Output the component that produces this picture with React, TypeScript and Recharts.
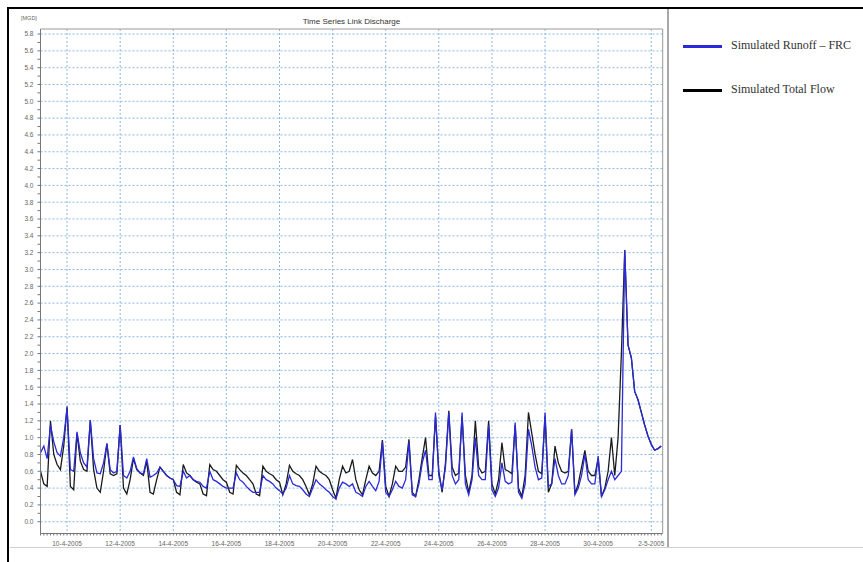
import React from 'react';
import { LineChart, Line, XAxis, YAxis, CartesianGrid, ReferenceLine } from 'recharts';

// readings every 3 hours, starting 9-4-2005 00:00 (x value = days since then)
const dateLabels = [
  '10-4-2005', '12-4-2005', '14-4-2005', '16-4-2005', '18-4-2005', '20-4-2005',
  '22-4-2005', '24-4-2005', '26-4-2005', '28-4-2005', '30-4-2005', '2-5-2005',
];
const labelDays = [1, 3, 5, 7, 9, 11, 13, 15, 17, 19, 21, 23];

// Simulated Runoff - FRC [MGD]
const runoff = [
  0.82, 0.9, 0.75, 1.15, 0.95, 0.82, 0.78, 1.0,
  1.35, 0.62, 0.6, 1.07, 0.82, 0.7, 0.65, 1.21,
  0.75, 0.58, 0.57, 0.7, 0.93, 0.62, 0.58, 0.6,
  1.15, 0.55, 0.52, 0.6, 0.77, 0.63, 0.58, 0.57,
  0.75, 0.53, 0.55, 0.58, 0.65, 0.6, 0.55, 0.52,
  0.5, 0.43, 0.42, 0.6, 0.52, 0.55, 0.5, 0.48,
  0.47, 0.42, 0.4, 0.6, 0.5, 0.48, 0.45, 0.42,
  0.4, 0.4, 0.4, 0.58, 0.5, 0.47, 0.42, 0.38,
  0.35, 0.35, 0.35, 0.55, 0.5, 0.48, 0.45, 0.4,
  0.37, 0.33, 0.4, 0.55, 0.45, 0.43, 0.42, 0.38,
  0.33, 0.3, 0.4, 0.5, 0.45, 0.42, 0.38, 0.35,
  0.3, 0.27, 0.4, 0.47, 0.45, 0.42, 0.45, 0.35,
  0.33, 0.3, 0.42, 0.48, 0.42, 0.37, 0.48, 0.95,
  0.35, 0.3, 0.38, 0.48, 0.42, 0.4, 0.5, 0.95,
  0.32, 0.3, 0.45, 0.7, 0.85, 0.5, 0.5, 1.3,
  0.55, 0.38, 0.65, 1.3, 0.55, 0.45, 0.5, 1.3,
  0.45, 0.32, 0.5, 1.0, 0.55, 0.5, 0.5, 1.15,
  0.38, 0.3, 0.4, 0.7, 0.48, 0.45, 0.47, 1.18,
  0.35, 0.28, 0.45, 1.1, 0.9, 0.65, 0.5, 0.52,
  1.3, 0.42, 0.45, 0.75, 0.55, 0.45, 0.45, 0.55,
  1.1, 0.32, 0.4, 0.55, 0.8, 0.5, 0.45, 0.45,
  0.78, 0.3, 0.38, 0.5, 0.6, 0.5, 0.55, 0.6,
  3.23, 2.1, 1.95, 1.55, 1.45, 1.3, 1.15, 1.02,
  0.92, 0.85, 0.87, 0.9,
];

// Simulated Total Flow [MGD]
const totalFlow = [
  0.6, 0.45, 0.42, 1.2, 0.8, 0.68, 0.62, 0.9,
  1.37, 0.42, 0.38, 1.05, 0.72, 0.62, 0.6, 1.2,
  0.62, 0.4, 0.35, 0.6, 0.93, 0.57, 0.55, 0.57,
  1.15, 0.4, 0.33, 0.5, 0.75, 0.62, 0.58, 0.55,
  0.72, 0.35, 0.33, 0.5, 0.65, 0.6, 0.55, 0.52,
  0.5, 0.35, 0.32, 0.68, 0.58, 0.55, 0.5, 0.47,
  0.45, 0.33, 0.31, 0.68, 0.62, 0.6, 0.55, 0.5,
  0.47, 0.35, 0.33, 0.67, 0.62, 0.58, 0.55, 0.5,
  0.45, 0.33, 0.31, 0.66, 0.6, 0.57, 0.55, 0.5,
  0.47, 0.32, 0.45, 0.67, 0.6, 0.57, 0.55, 0.5,
  0.42, 0.32, 0.45, 0.66, 0.6, 0.57, 0.55, 0.5,
  0.38, 0.28, 0.5, 0.66, 0.58, 0.6, 0.74, 0.5,
  0.38, 0.32, 0.5, 0.66, 0.58, 0.55, 0.6, 0.97,
  0.42, 0.3, 0.45, 0.66, 0.6, 0.6, 0.65, 0.98,
  0.35, 0.3, 0.5, 0.76, 1.0, 0.55, 0.55, 1.25,
  0.6, 0.35, 0.7, 1.32, 0.65, 0.55, 0.58, 1.25,
  0.55, 0.35, 0.55, 1.2, 0.65, 0.58, 0.6, 1.2,
  0.45, 0.33, 0.5, 0.94, 0.62, 0.6, 0.57, 1.15,
  0.4, 0.3, 0.55, 1.3, 1.05, 0.8, 0.6, 0.57,
  1.25, 0.35, 0.45, 0.9, 0.7, 0.6, 0.58, 0.6,
  1.1, 0.33, 0.45, 0.65, 0.85, 0.6, 0.55, 0.55,
  0.75, 0.3, 0.4, 0.6, 1.0, 0.55, 1.0, 2.0,
  3.23, 2.1, 1.95, 1.55, 1.45, 1.3, 1.15, 1.02,
  0.92, 0.85, 0.87, 0.9,
];

const STEP = 1 / 8;
const X_MAX = 23.43;
const Y_MIN = -0.14;
const Y_MAX = 5.86;

const data = runoff.map((r, i) => ({ t: i * STEP, runoff: r, total: totalFlow[i] }));

const xTicks = Array.from({ length: Math.floor(X_MAX / STEP) + 1 }, (_, i) => i * STEP);
const yTicks = Array.from({ length: 59 }, (_, i) => i / 10);
const gridY = yTicks.filter((_, i) => i % 2 === 0);

const XTick = (props: any) => {
  const { x, y, payload } = props;
  const idx = labelDays.indexOf(payload.value);
  if (idx < 0) return null;
  return (
    <text x={x} y={y} dy={8} textAnchor="middle" fontSize={6.5} fill="#666" fontFamily="Arial, Liberation Sans">
      {dateLabels[idx]}
    </text>
  );
};

const App: React.FC = () => {
  return (
    <div style={{ position: 'absolute', left: 0, top: 0, width: 863, height: 562, background: '#fff', overflow: 'hidden' }}>
      {/* screenshot frame */}
      <div style={{ position: 'absolute', left: 7, top: 7, width: 860, height: 560, borderLeft: '2px solid #000', borderTop: '2px solid #000' }} />
      <div style={{ position: 'absolute', left: 10, top: 547, width: 853, height: 1, background: '#d0d0d0' }} />
      <div style={{ position: 'absolute', left: 667, top: 9, width: 2, height: 538, background: '#a8a8a8' }} />

      <div style={{ position: 'absolute', left: 21, top: 15, fontSize: 5.5, color: '#666', fontFamily: 'Arial, Liberation Sans' }}>[MGD]</div>
      <div style={{ position: 'absolute', left: 40, top: 17, width: 623, textAlign: 'center', fontSize: 8, color: '#333', fontFamily: 'Arial, Liberation Sans' }}>
        Time Series Link Discharge
      </div>

      <div style={{ position: 'absolute', left: 0, top: 0 }}>
        <LineChart width={668} height={562} data={data} margin={{ top: 29, right: 5.3, left: 0, bottom: 14.5 }}>
          <CartesianGrid
            stroke="#6fa6e0"
            strokeDasharray="2 2"
            strokeOpacity={0.8}
            horizontalValues={gridY}
            verticalValues={labelDays}
          />
          <XAxis
            dataKey="t"
            type="number"
            domain={[0, X_MAX]}
            ticks={xTicks}
            interval={0}
            tick={<XTick />}
            tickSize={2}
            tickMargin={2}
            height={14}
            stroke="#777"
            allowDataOverflow
          />
          <YAxis
            type="number"
            domain={[Y_MIN, Y_MAX]}
            ticks={yTicks}
            interval={0}
            width={40.5}
            tickSize={3}
            tickMargin={4}
            stroke="#777"
            tick={{ fontSize: 6.5, fill: '#666', fontFamily: 'Arial, Liberation Sans' }}
            tickFormatter={(v: number) => (Math.round(v * 10) % 2 === 0 ? v.toFixed(1) : '')}
            allowDataOverflow
          />
          <ReferenceLine y={Y_MAX} stroke="#999" />
          <ReferenceLine x={X_MAX} stroke="#999" />
          <Line type="linear" dataKey="total" stroke="#1a1a1a" strokeWidth={1.3} dot={false} isAnimationActive={false} />
          <Line type="linear" dataKey="runoff" stroke="#2a2ad8" strokeWidth={1.3} dot={false} isAnimationActive={false} />
        </LineChart>
      </div>

      <div style={{ position: 'absolute', left: 683, top: 45, width: 39, height: 3, background: '#2a2ad8' }} />
      <div style={{ position: 'absolute', left: 731, top: 38, fontSize: 12, color: '#333', fontFamily: '"Liberation Serif", "Times New Roman", serif', whiteSpace: 'nowrap' }}>
        Simulated Runoff – FRC
      </div>
      <div style={{ position: 'absolute', left: 683, top: 89, width: 39, height: 3, background: '#000' }} />
      <div style={{ position: 'absolute', left: 731, top: 82, fontSize: 12, color: '#333', fontFamily: '"Liberation Serif", "Times New Roman", serif', whiteSpace: 'nowrap' }}>
        Simulated Total Flow
      </div>
    </div>
  );
};

export default App;
